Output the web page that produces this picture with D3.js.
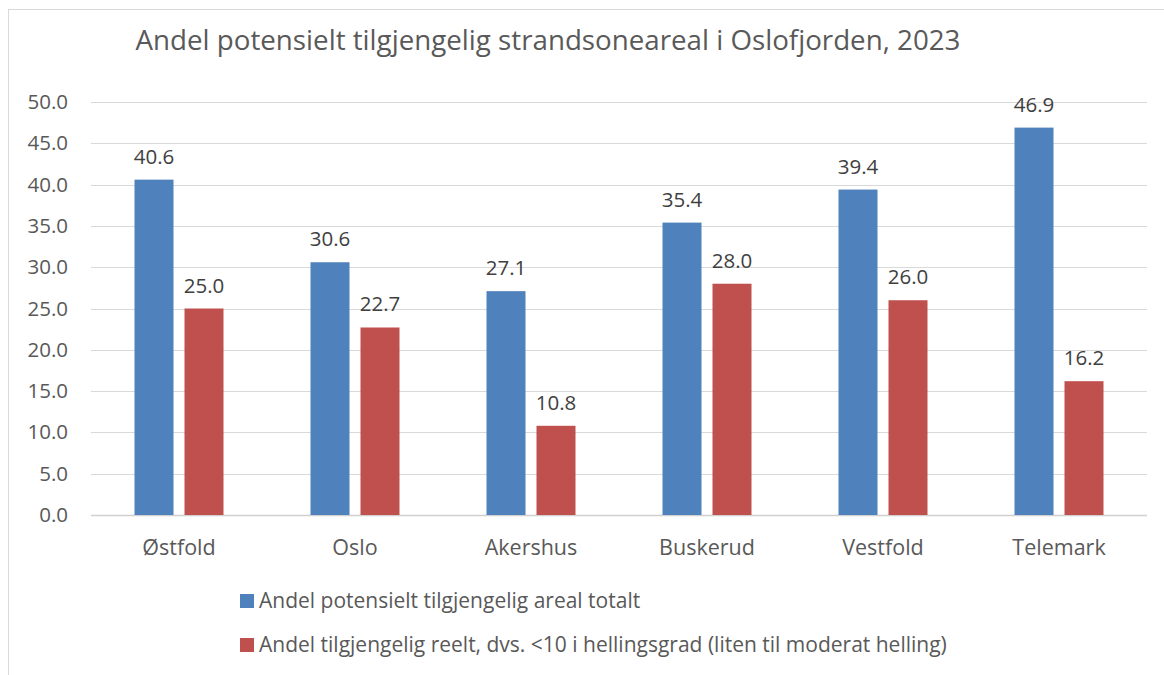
<!DOCTYPE html>
<html><head><meta charset="utf-8">
<script src="https://cdn.jsdelivr.net/npm/d3@7"></script>
<style>body{margin:0;background:#fff}svg{display:block}text{font-family:"Open Sans",sans-serif}</style>
</head><body><svg id="c" width="1164" height="675"></svg>
<script>
const categories = ["Østfold","Oslo","Akershus","Buskerud","Vestfold","Telemark"];
const seriesNames = ["Andel potensielt tilgjengelig areal totalt","Andel tilgjengelig reelt, dvs. <10 i hellingsgrad (liten til moderat helling)"];
const totalValues = [40.6,30.6,27.1,35.4,39.4,46.9];
const realValues = [25.0,22.7,10.8,28.0,26.0,16.2];
const yTicks = [0,5,10,15,20,25,30,35,40,45,50];
const colors = ["#4F81BD","#C0504D"];
const title = "Andel potensielt tilgjengelig strandsoneareal i Oslofjorden, 2023";

(function(){
const svg = d3.select("#c");
svg.append("rect").attr("x",8.5).attr("y",9.5).attr("width",1170).attr("height",700)
  .attr("fill","#fff").attr("stroke","#d9d9d9");

const pLeft=91, pRight=1147, pTop=102, pBottom=515;
const numSize = 20.5, catSize = 21.5, legSize = 21;
const x = d3.scaleBand().domain(categories).range([pLeft,pRight]).paddingInner(0).paddingOuter(0);
const y = d3.scaleLinear().domain([0,50]).range([pBottom,pTop]);
const barW = 39, gap = 11;

svg.append("g").selectAll("line").data(yTicks).join("line")
  .attr("x1",pLeft).attr("x2",pRight).attr("y1",d=>Math.round(y(d))+0.5).attr("y2",d=>Math.round(y(d))+0.5)
  .attr("stroke",d=>d===0?"#d0d0d0":"#d9d9d9").attr("stroke-width",d=>d===0?1.5:1.2);

const yAxis = d3.axisLeft(y).tickValues(yTicks).tickFormat(d3.format(".1f")).tickSize(0).tickPadding(23);
const ga = svg.append("g").attr("transform",`translate(${pLeft},0)`).call(yAxis);
ga.select(".domain").remove();
ga.selectAll("text").attr("font-size",numSize).attr("fill","#595959").attr("font-family","Open Sans");

const xAxis = d3.axisBottom(x).tickSize(0).tickPadding(25);
const gx = svg.append("g").attr("transform",`translate(0,${pBottom})`).call(xAxis);
gx.select(".domain").remove();
gx.selectAll("text").attr("font-size",catSize).attr("fill","#595959").attr("font-family","Open Sans");

const series = [totalValues, realValues];
series.forEach((vals,si)=>{
  const off = si===0 ? -(gap/2+barW) : gap/2;
  const g = svg.append("g");
  g.selectAll("rect").data(vals).join("rect")
    .attr("x",(d,i)=>x(categories[i])+x.bandwidth()/2+off)
    .attr("y",d=>y(d)).attr("width",barW).attr("height",d=>y(0)-y(d))
    .attr("fill",colors[si]);
  g.selectAll("text").data(vals).join("text")
    .attr("x",(d,i)=>x(categories[i])+x.bandwidth()/2+off+barW/2)
    .attr("y",d=>y(d)-16)
    .attr("text-anchor","middle").attr("font-size",numSize).attr("fill","#404040")
    .text(d=>d3.format(".1f")(d));
});

const t = svg.append("text").attr("x",548).attr("y",50).attr("text-anchor","middle")
  .attr("font-size",26).attr("fill","#595959").text(title);
const w = t.node().getComputedTextLength();
t.attr("font-size",26*825/w);

const leg = svg.append("g");
seriesNames.forEach((n,i)=>{
  const top = 594 + i*44;
  leg.append("rect").attr("x",240).attr("y",top).attr("width",14).attr("height",14).attr("fill",colors[i]);
  leg.append("text").attr("x",259).attr("y",top+14).attr("font-size",legSize).attr("fill","#595959").text(n);
});
})();
</script></body></html>
